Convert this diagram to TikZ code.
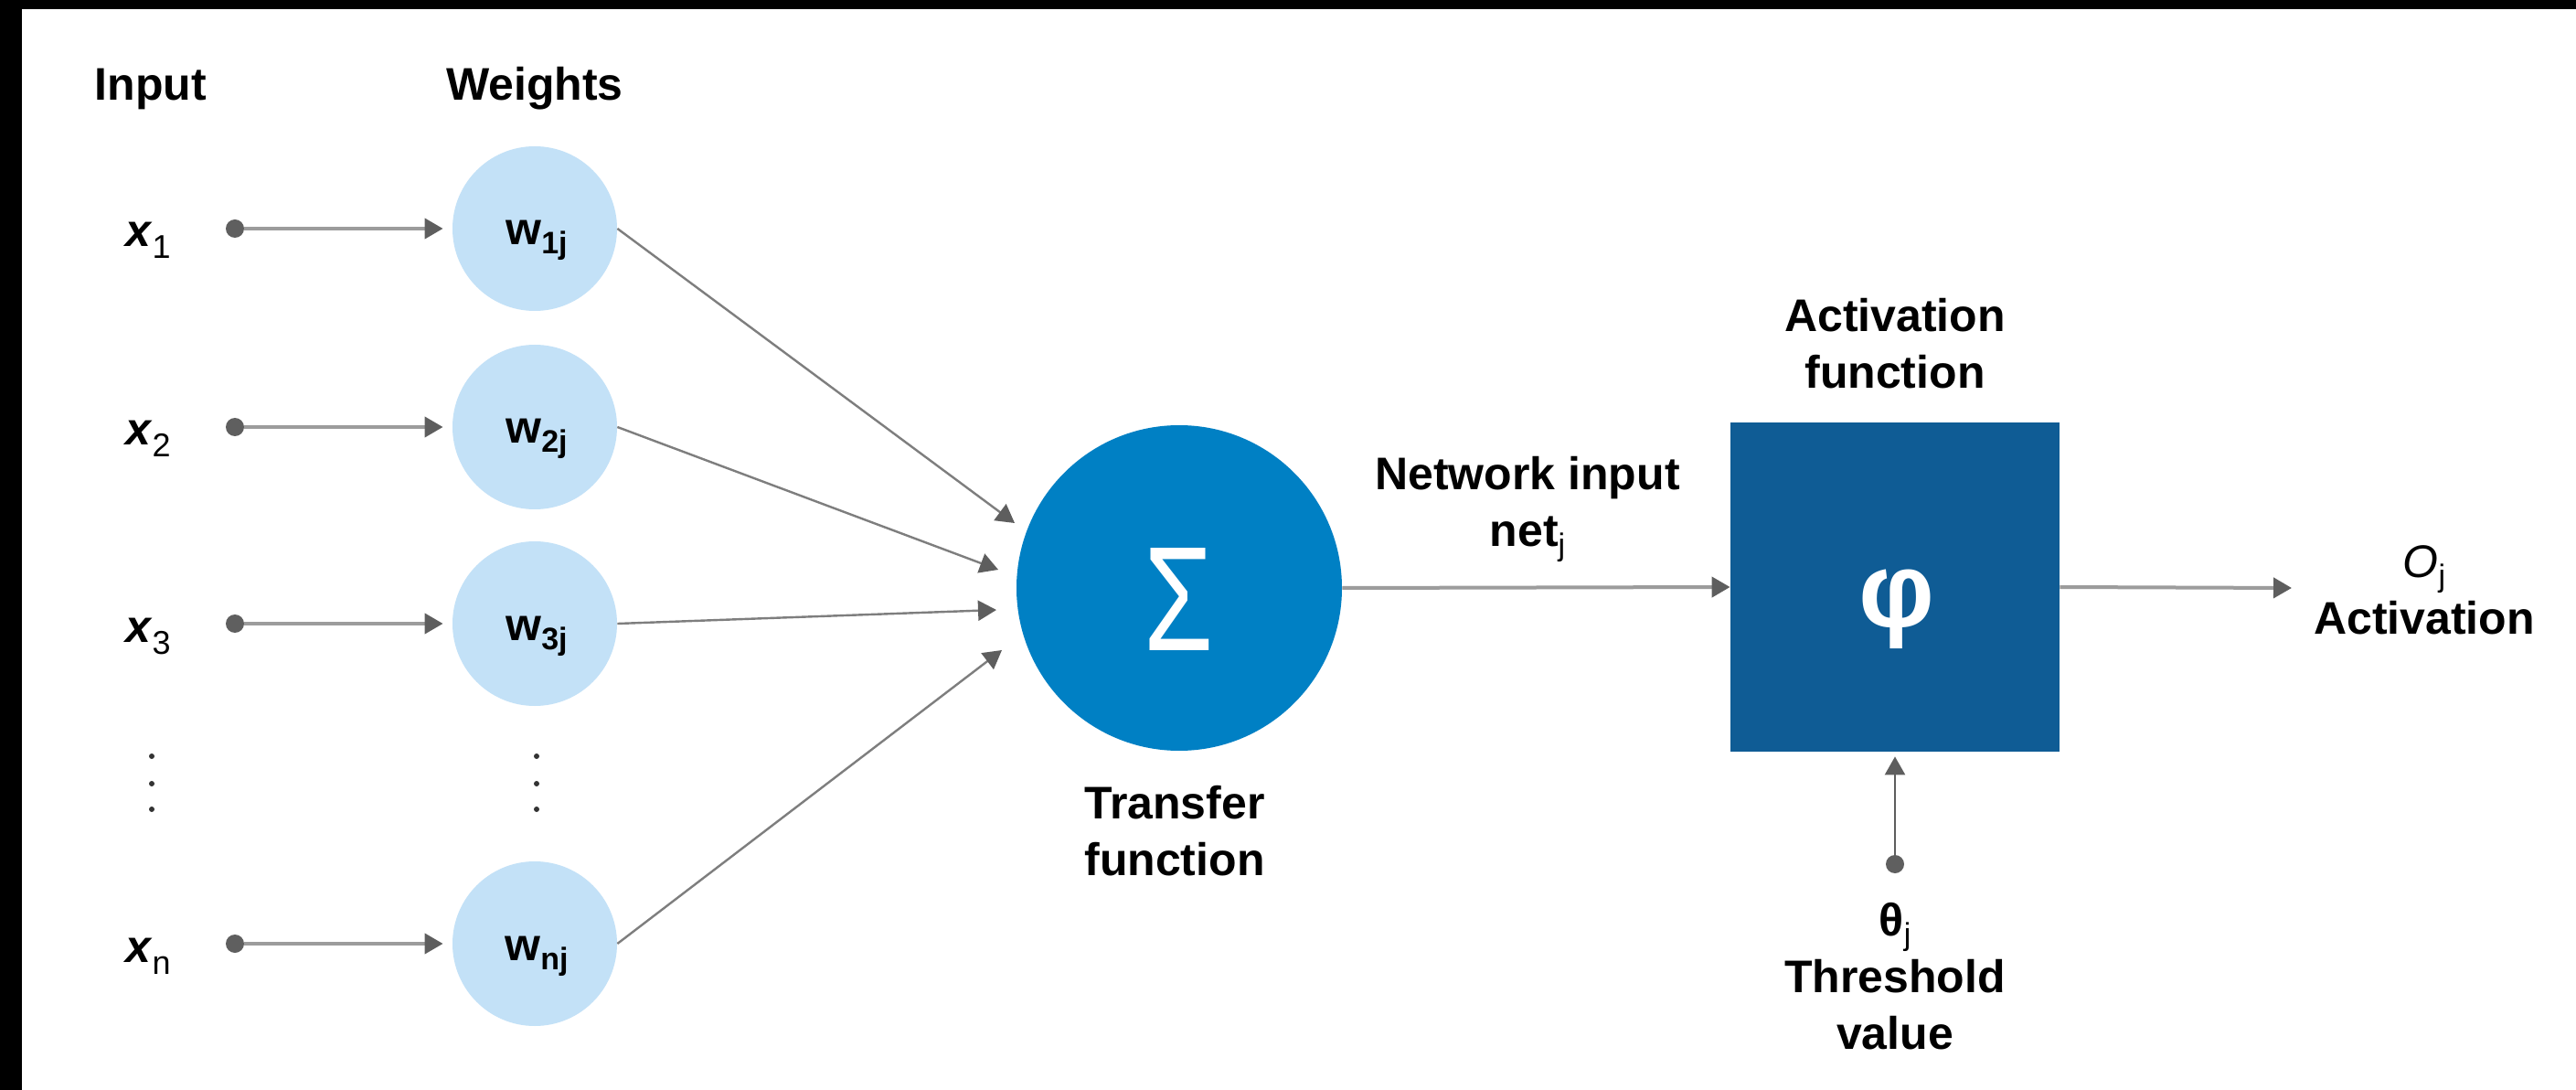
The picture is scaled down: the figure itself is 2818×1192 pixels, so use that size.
\documentclass[tikz,border=0pt]{standalone}
\usepackage{fontspec}
\setmainfont{Liberation Sans}
\usepackage{graphicx}
\usetikzlibrary{arrows.meta,calc}
\definecolor{wblue}{HTML}{C3E1F7}
\definecolor{sblue}{HTML}{0080C4}
\definecolor{boxblue}{HTML}{0F5C95}
\definecolor{linegray}{HTML}{9C9C9C}
\definecolor{diaggray}{HTML}{7E7E7E}
\definecolor{tipgray}{HTML}{5E5E5E}
\definecolor{dotgray}{HTML}{5F5F5F}
\newcommand{\lblfont}{\fontsize{25pt}{31pt}\selectfont\bfseries}
\newcommand{\subx}[1]{\raisebox{-6.5pt}{\fontsize{18pt}{18pt}\selectfont\mdseries\upshape #1}}
\newcommand{\subw}[1]{\raisebox{-5pt}{\fontsize{17pt}{17pt}\selectfont\bfseries\upshape #1}}
\newcommand{\subj}[1]{\raisebox{-5pt}{\fontsize{17pt}{17pt}\selectfont\mdseries\upshape #1}}
\begin{document}
\begin{tikzpicture}[x=0.5pt,y=-0.5pt,
  lbl/.style={font=\lblfont, inner sep=0pt, align=center, text=black},
  wcircle/.style={circle, fill=wblue, minimum size=90pt, inner sep=0pt},
  sigcircle/.style={circle, fill=sblue, minimum size=178pt, inner sep=0pt},
  actbox/.style={rectangle, fill=boxblue, minimum size=180pt, inner sep=0pt},
  dotnode/.style={circle, fill=dotgray, minimum size=10pt, inner sep=0pt},
  edot/.style={circle, fill=black!80, minimum size=3pt, inner sep=0pt},
  tip/.style={-{Triangle[length=10pt,width=11pt,color=tipgray]}},
  thickarrow/.style={draw=linegray, line width=2pt, tip},
  diagarrow/.style={draw=diaggray, line width=1.2pt, tip},
  tharrow/.style={draw=tipgray, line width=1.2pt, tip}
]
\fill[black] (0,0) rectangle (2818,1192);
\fill[white] (24,10) rectangle (2818,1192);
\useasboundingbox (0,0) rectangle (2818,1192);

\node[lbl, anchor=base] (hin) at (165,110) {Input};
\node[lbl, anchor=base] (hw) at (585,110) {Weights};

\foreach \i/\r in {1/250, 2/467, 3/682, n/1032} {
  \node[lbl, anchor=base] (x\i) at (162,\r+20) {\textit{x}\subx{\i}};
  \node[dotnode] (d\i) at (257,\r) {};
  \node[wcircle] (w\i) at (585,\r) {};
  \node[lbl, anchor=base] (wl\i) at (587,\r+18) {w\subw{\i j}};
  \draw[thickarrow, shorten >=5pt] (d\i) -- (w\i);
}

\foreach \yy in {827,857,885} {
  \node[edot] (ex\yy) at (166,\yy) {};
  \node[edot] (ew\yy) at (587,\yy) {};
}

\node[sigcircle] (sig) at (1290,643) {};
\node[inner sep=0pt, text=white] (sigsym) at (1290,655) {\resizebox{38pt}{56pt}{\mdseries Σ}};

\coordinate (t1) at ($(sig)+(-180,-71)$);
\coordinate (t2) at ($(sig)+(-198,-20)$);
\coordinate (t3) at ($(sig)+(-200,24)$);
\coordinate (tn) at ($(sig)+(-194,68)$);
\foreach \i in {1,2,3,n} {
  \draw[diagarrow] (w\i.east) -- (t\i);
}

\node[lbl, anchor=base] (tf) at (1285,957) {Transfer\\function};

\node[actbox] (box) at (2073,642) {};
\node[inner sep=0pt, text=white, font=\fontsize{58pt}{58pt}\selectfont\bfseries] (phi) at (2075,666) {φ};
\node[lbl, anchor=base] (af) at (2073,425) {Activation\\function};

\draw[thickarrow] (sig.east) -- (box.west);
\node[lbl, anchor=base] (ni) at (1671,597) {Network input\\net\subj{j}};

\coordinate (out) at (2507,643);
\draw[thickarrow] (box.east) -- (out);
\node[lbl, anchor=base] (outl) at (2652,693) {{\mdseries\itshape O}\subj{j}\\Activation};

\node[dotnode] (thd) at (2073,945) {};
\draw[tharrow, shorten >=2.5pt] (thd) -- (box.south);
\node[lbl, anchor=base] (thl) at (2073,1147) {θ\subj{j}\\Threshold\\value};
\end{tikzpicture}
\end{document}
